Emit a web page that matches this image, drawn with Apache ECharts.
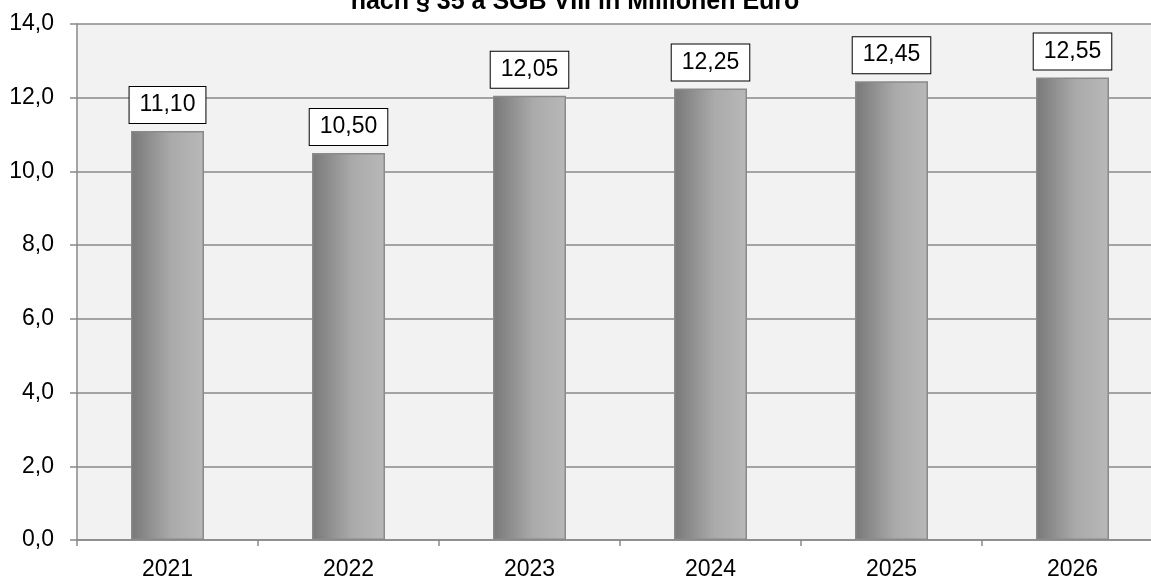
<!DOCTYPE html>
<html>
<head>
<meta charset="utf-8">
<script src="https://cdn.jsdelivr.net/npm/echarts@6/dist/echarts.min.js"></script>
<style>
html,body{margin:0;padding:0;background:#fff;overflow:hidden;width:1151px;height:581px;}
#c{width:1170px;height:581px;}
</style>
</head>
<body>
<div id="c"></div>
<script>
const titleText = 'nach § 35 a SGB VIII in Millionen Euro';
const categories = ['2021', '2022', '2023', '2024', '2025', '2026'];
const values = [11.10, 10.50, 12.05, 12.25, 12.45, 12.55];
const yMin = 0, yMax = 14, yInterval = 2;

const chart = echarts.init(document.getElementById('c'), null, {renderer: 'canvas'});
const font = 'Liberation Sans, Arial, sans-serif';
chart.setOption({
  animation: false,
  backgroundColor: '#ffffff',
  title: {
    text: titleText,
    left: 575,
    textAlign: 'center',
    top: -10,
    padding: 0,
    textStyle: {fontFamily: font, fontWeight: 'bold', fontSize: 25, color: '#000'}
  },
  grid: {
    left: 77, top: 24, width: 1086, height: 520,
    show: true, backgroundColor: '#f2f2f2', borderWidth: 0
  },
  xAxis: {
    type: 'category',
    data: categories,
    axisLine: {lineStyle: {color: '#898989', width: 1.5}},
    axisTick: {show: true, length: 6, lineStyle: {color: '#898989', width: 1.5}},
    axisLabel: {color: '#000', fontFamily: font, fontSize: 23, margin: 18}
  },
  yAxis: {
    type: 'value',
    min: yMin, max: yMax, interval: yInterval,
    axisLine: {show: true, lineStyle: {color: '#898989', width: 1.5}},
    axisTick: {show: true, length: 7, lineStyle: {color: '#898989', width: 1.5}},
    splitLine: {show: true, lineStyle: {color: '#898989', width: 1.5}},
    axisLabel: {
      color: '#000', fontFamily: font, fontSize: 23, margin: 23,
      formatter: v => v.toFixed(1).replace('.', ',')
    }
  },
  series: [{
    type: 'bar',
    data: values,
    barWidth: 73,
    itemStyle: {
      color: new echarts.graphic.LinearGradient(0, 0, 1, 0, [
        {offset: 0, color: '#787878'},
        {offset: 0.55, color: '#aaaaaa'},
        {offset: 1, color: '#b8b8b8'}
      ]),
      borderColor: '#8a8a8a',
      borderWidth: 1.5
    },
    label: {
      show: true,
      position: 'top',
      distance: 8,
      fontFamily: font,
      fontSize: 23,
      lineHeight: 22,
      color: '#000',
      backgroundColor: '#ffffff',
      borderColor: '#000',
      borderWidth: 1,
      padding: [7, 10],
      formatter: p => p.value.toFixed(2).replace('.', ',')
    }
  }]
});
</script>
</body>
</html>
